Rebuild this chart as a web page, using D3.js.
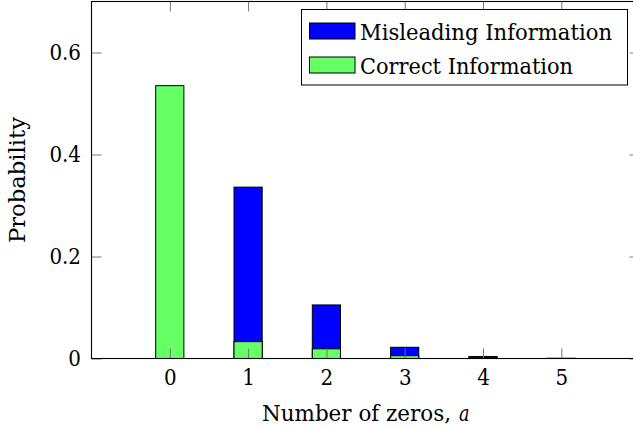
<!DOCTYPE html>
<html>
<head>
<meta charset="utf-8">
<script src="https://cdn.jsdelivr.net/npm/d3@7/dist/d3.min.js"></script>
<style>
  html, body { margin: 0; padding: 0; background: #fff; }
</style>
</head>
<body>
<svg id="chart" width="633" height="427"></svg>
<script>
// Number of zeros a, and probability of each count under the two sources
const zeros = [0, 1, 2, 3, 4, 5];
const misleading = [0, 0.336, 0.105, 0.022, 0.004, 0.0004];
const correct = [0.535, 0.033, 0.019, 0.0055, 0.001, 0.0001];
const xTicks = [0, 1, 2, 3, 4, 5];
const yTicks = [0, 0.2, 0.4, 0.6];
const seriesNames = ["Misleading Information", "Correct Information"];
const seriesColors = ["#0000ff", "#66ff66"];

const serif = "DejaVu Serif";
const svg = d3.select("#chart");
const plotLeft = 91.5, plotRight = 639.6, plotTop = 1.5, plotBottom = 358.5;
const fontSize = 23;
// narrow the wide serif face to a Times-like set width
const em = fontSize * 1.1;
const fit = (sel, w) => sel.attr("textLength", w).attr("lengthAdjust", "spacingAndGlyphs");

const x = d3.scaleLinear().domain([-1, 6]).range([plotLeft, plotRight]);
const y = d3.scaleLinear().domain([0, 0.7]).range([plotBottom, plotTop]);
const barW = 0.36 * (x(1) - x(0));

// Bars: the misleading series underneath, the correct series drawn over it
[misleading, correct].forEach((vals, si) => {
  svg.append("g")
    .selectAll("rect")
    .data(zeros)
    .join("rect")
    .attr("x", d => x(d) - barW / 2)
    .attr("y", (d, i) => y(vals[i]))
    .attr("width", barW)
    .attr("height", (d, i) => y(0) - y(vals[i]))
    .attr("fill", seriesColors[si])
    .attr("stroke", "#000")
    .attr("stroke-width", 1);
});

// Axes with inward ticks on all four sides
function styleAxis(g, withLabels) {
  g.attr("font-family", serif).attr("font-size", fontSize);
  g.select(".domain").remove();
  g.selectAll(".tick line").attr("stroke", "#777").attr("stroke-width", 1);
  g.selectAll(".tick text").attr("fill", "#000")
    .each(function () {
      const s = d3.select(this).text();
      fit(d3.select(this), s.length === 1 ? 0.5 * em : 1.25 * em);
    });
  if (!withLabels) g.selectAll(".tick text").remove();
}

svg.append("g")
  .attr("transform", `translate(0,${plotBottom})`)
  .call(d3.axisBottom(x).tickValues(xTicks).tickFormat(d3.format("d")).tickSize(-10).tickPadding(10.5))
  .call(g => styleAxis(g, true));

svg.append("g")
  .attr("transform", `translate(0,${plotTop})`)
  .call(d3.axisTop(x).tickValues(xTicks).tickSize(-10))
  .call(g => styleAxis(g, false));

svg.append("g")
  .attr("transform", `translate(${plotLeft},0)`)
  .call(d3.axisLeft(y).tickValues(yTicks).tickFormat(d => d === 0 ? "0" : d3.format(".1f")(d)).tickSize(-10).tickPadding(10.5))
  .call(g => styleAxis(g, true));

svg.append("g")
  .attr("transform", `translate(${plotRight},0)`)
  .call(d3.axisRight(y).tickValues(yTicks).tickSize(-10))
  .call(g => styleAxis(g, false));

// Plot frame
svg.append("rect")
  .attr("x", plotLeft).attr("y", plotTop)
  .attr("width", plotRight - plotLeft).attr("height", plotBottom - plotTop)
  .attr("fill", "none").attr("stroke", "#000").attr("stroke-width", 1.1);

// Axis titles: the variable name is set in italics as a separate run
svg.append("text")
  .attr("x", 262).attr("y", 421)
  .attr("font-family", serif)
  .attr("font-size", fontSize)
  .call(fit, 189)
  .text("Number of zeros,");
svg.append("text")
  .attr("x", 459).attr("y", 421)
  .attr("font-family", serif)
  .attr("font-style", "italic")
  .attr("font-size", fontSize)
  .call(fit, 10.5)
  .text("a");

svg.append("text")
  .attr("transform", `translate(25,${(plotTop + plotBottom) / 2}) rotate(-90)`)
  .attr("text-anchor", "middle")
  .attr("font-family", serif)
  .attr("font-size", fontSize)
  .call(fit, 126)
  .text("Probability");

// Legend
const legend = svg.append("g");
legend.append("rect")
  .attr("x", 301.5).attr("y", 9.5)
  .attr("width", 326).attr("height", 75.5)
  .attr("fill", "#fff").attr("stroke", "#000").attr("stroke-width", 1);

const legendWidths = [252, 213];
const rows = legend.selectAll("g.row")
  .data(seriesNames)
  .join("g")
  .attr("class", "row")
  .attr("transform", (d, i) => `translate(0,${39.5 + i * 34})`);

rows.append("rect")
  .attr("x", 309.5).attr("y", -16.5)
  .attr("width", 45.5).attr("height", 16)
  .attr("fill", (d, i) => seriesColors[i])
  .attr("stroke", "#000").attr("stroke-width", 1);

rows.append("text")
  .attr("x", 360).attr("y", 0)
  .attr("font-family", serif)
  .attr("font-size", fontSize)
  .attr("textLength", (d, i) => legendWidths[i])
  .attr("lengthAdjust", "spacingAndGlyphs")
  .text(d => d);
</script>
</body>
</html>
